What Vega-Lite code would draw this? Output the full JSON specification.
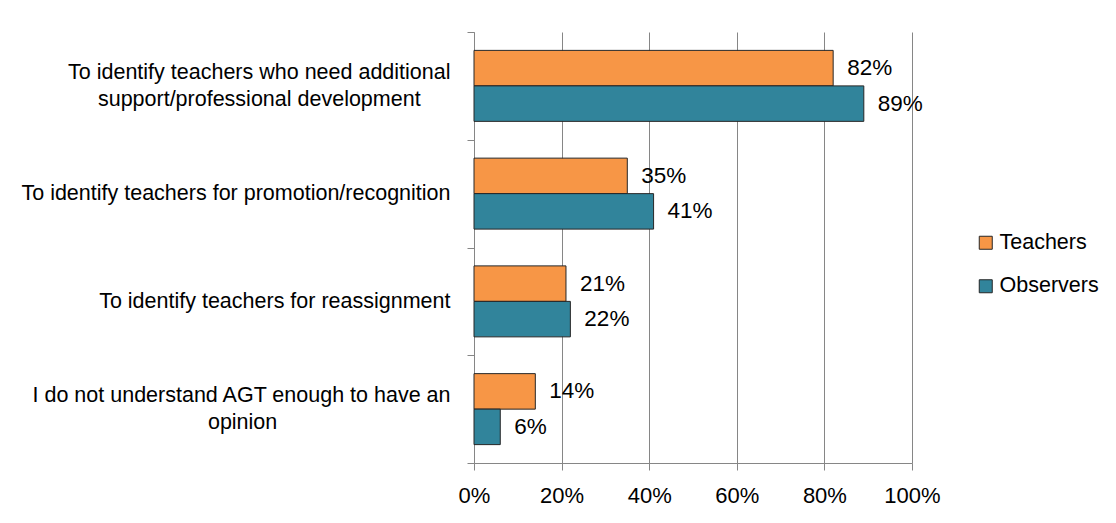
{
  "$schema": "https://vega.github.io/schema/vega-lite/v6.json",
  "autosize": {"type": "none"},
  "width": 438,
  "height": 431,
  "padding": {"left": 474, "top": 32, "right": 204, "bottom": 60},
  "background": "white",
  "data": {
    "values": [
      {"reason": "To identify teachers who need additional|support/professional development", "group": "Teachers", "pct": 0.82, "label": "82%"},
      {"reason": "To identify teachers who need additional|support/professional development", "group": "Observers", "pct": 0.89, "label": "89%"},
      {"reason": "To identify teachers for promotion/recognition", "group": "Teachers", "pct": 0.35, "label": "35%"},
      {"reason": "To identify teachers for promotion/recognition", "group": "Observers", "pct": 0.41, "label": "41%"},
      {"reason": "To identify teachers for reassignment", "group": "Teachers", "pct": 0.21, "label": "21%"},
      {"reason": "To identify teachers for reassignment", "group": "Observers", "pct": 0.22, "label": "22%"},
      {"reason": "I do not understand AGT enough to have an|opinion", "group": "Teachers", "pct": 0.14, "label": "14%"},
      {"reason": "I do not understand AGT enough to have an|opinion", "group": "Observers", "pct": 0.06, "label": "6%"}
    ]
  },
  "encoding": {
    "y": {
      "field": "reason", "type": "nominal", "sort": null, "title": null,
      "scale": {"paddingInner": 0, "paddingOuter": 0},
      "axis": {
        "labelExpr": "indexof(datum.label, '|') >= 0 ? [split(datum.label, '|')[0], '\u200b', pad(split(datum.label, '|')[1], length(split(datum.label, '|')[1]) + (indexof(datum.label, 'AGT') >= 0 ? 29 : 5), '\u00a0') + '\u200b'] : ['', datum.label]",
        "labelFont": "Liberation Sans", "labelFontSize": 21.5, "labelColor": "#000000",
        "labelLineHeight": 13.5, "labelLimit": 600, "labelPadding": 17,
        "labelAlign": "right", "labelOffset": -13.5,
        "tickBand": "extent", "tickSize": 7, "tickColor": "#868686",
        "domainColor": "#868686", "grid": false
      }
    },
    "yOffset": {"field": "group", "type": "nominal", "sort": ["Teachers", "Observers"], "scale": {"paddingInner": 0, "paddingOuter": 0.518}},
    "x": {
      "field": "pct", "type": "quantitative", "title": null,
      "scale": {"domain": [0, 1], "nice": false},
      "axis": {
        "format": ".0%", "values": [0, 0.2, 0.4, 0.6, 0.8, 1], "labelFlush": false,
        "labelFont": "Liberation Sans", "labelFontSize": 22, "labelColor": "#000000",
        "labelPadding": 15, "tickSize": 7, "tickColor": "#868686",
        "domainColor": "#868686", "gridColor": "#868686", "grid": true
      }
    }
  },
  "layer": [
    {
      "mark": {"type": "bar", "stroke": "#262626", "strokeWidth": 1},
      "encoding": {
        "color": {
          "field": "group", "type": "nominal", "title": null,
          "sort": ["Teachers", "Observers"],
          "scale": {"domain": ["Teachers", "Observers"], "range": ["#F79646", "#31849B"]},
          "legend": {
            "orient": "none", "legendX": 501, "legendY": 200,
            "symbolType": "square", "symbolSize": 169, "symbolStrokeColor": "#262626",
            "symbolStrokeWidth": 1, "labelFont": "Liberation Sans", "labelFontSize": 21.5,
            "labelColor": "#000000", "rowPadding": 20.5, "labelOffset": 3
          }
        }
      }
    },
    {
      "mark": {"type": "text", "align": "left", "baseline": "middle", "dx": 14, "font": "Liberation Sans", "fontSize": 22.5, "color": "#000000"},
      "encoding": {"text": {"field": "label"}}
    }
  ],
  "config": {"view": {"stroke": null}}
}
